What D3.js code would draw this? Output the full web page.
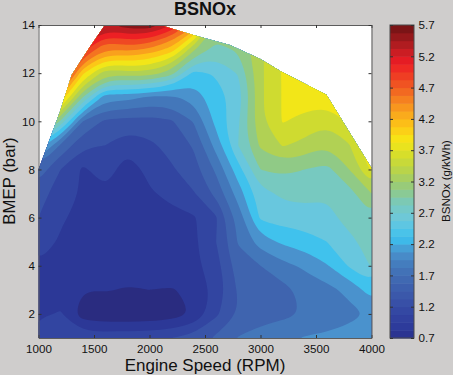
<!DOCTYPE html>
<html>
<head>
<meta charset="utf-8">
<script src="https://cdn.jsdelivr.net/npm/d3@7"></script>
<style>
  html, body { margin: 0; padding: 0; background: #cfcdcc; }
  svg { display: block; font-family: "Liberation Sans", Arial, sans-serif; }
</style>
</head>
<body>
<svg id="chart"></svg>
<script>
const width = 453;
const height = 375;

// Grid the map was read on
const speeds = [1000, 1200, 1400, 1600, 1800, 2000, 2200, 2400, 2600, 2800, 3000, 3200, 3400, 3600, 3800, 4000];
const bmepTopDown = [14, 13, 12, 11, 10, 9, 8, 7, 6, 5, 4, 3, 2, 1];

// BSNOx (g/kWh) per row, top row first, one value per speed
const bsnox = [
  [6.5, 6.4, 5.9, 5.4, 5.6, 5.65, 5.2, 4.5, 3.2, 3.1, 3.4, 3.75, 3.9, 3.9, 3.9, 4.0],
  [6.5, 6.3, 5.1, 4.45, 4.55, 4.4, 4.1, 3.25, 2.85, 3.0, 3.4, 3.75, 3.9, 3.9, 3.9, 4.0],
  [6.0, 5.5, 4.0, 3.3, 3.35, 3.35, 3.05, 2.37, 2.48, 2.72, 3.4, 3.72, 3.9, 3.9, 3.9, 4.0],
  [5.0, 4.2, 2.95, 2.05, 2.05, 1.9, 1.9, 2.05, 2.35, 2.55, 3.4, 3.72, 3.85, 3.85, 3.9, 4.0],
  [4.0, 2.9, 1.7, 1.4, 1.35, 1.35, 1.42, 1.72, 2.28, 2.68, 3.4, 3.72, 3.6, 3.5, 3.75, 4.2],
  [2.4, 1.65, 1.25, 1.2, 1.03, 1.15, 1.28, 1.48, 2.05, 2.7, 3.25, 3.47, 3.38, 3.2, 3.43, 4.0],
  [1.6, 1.2, 0.9, 1.08, 0.82, 1.02, 1.17, 1.35, 1.75, 2.35, 2.95, 3.02, 2.95, 2.88, 3.2, 3.75],
  [1.3, 1.08, 0.92, 0.9, 0.87, 0.92, 1.02, 1.18, 1.53, 2.07, 2.6, 2.75, 2.78, 2.73, 2.85, 3.2],
  [1.2, 0.98, 0.88, 0.86, 0.85, 0.86, 0.88, 0.92, 1.17, 1.8, 2.5, 2.57, 2.6, 2.62, 2.8, 2.92],
  [1.08, 0.92, 0.86, 0.84, 0.84, 0.84, 0.88, 0.9, 1.2, 1.73, 2.07, 2.25, 2.33, 2.45, 2.63, 2.82],
  [0.93, 0.87, 0.82, 0.8, 0.8, 0.82, 0.85, 0.88, 1.1, 1.58, 1.7, 1.87, 2.0, 2.18, 2.48, 2.72],
  [0.88, 0.85, 0.7, 0.72, 0.68, 0.7, 0.68, 0.76, 1.03, 1.48, 1.55, 1.62, 1.78, 1.87, 2.02, 2.32],
  [0.9, 0.97, 0.55, 0.5, 0.5, 0.5, 0.55, 0.72, 1.15, 1.45, 1.55, 1.63, 1.72, 1.8, 1.88, 1.98],
  [1.15, 1.05, 1.1, 1.12, 1.12, 1.15, 1.2, 1.3, 1.5, 1.72, 1.85, 1.9, 1.97, 2.0, 2.05, 2.12]
];

// Upper edge of the measured region
const edgeSpeed = [1000, 1193, 1299, 1450, 1599, 2095, 2395, 2724, 2995, 3190, 3594, 4000];
const edgeBmep = [8.0, 10.4, 11.92, 13.0, 14.0, 14.0, 13.58, 13.17, 12.6, 12.06, 11.1, 8.06];

// Contour levels and colour ramp
const levels = d3.range(0.45, 5.7, 0.25);
const rampValues = [0.6, 0.85, 1.1, 1.35, 1.6, 1.85, 2.08, 2.3, 2.6, 2.85, 3.1, 3.35, 3.6, 3.85, 4.1, 4.35, 4.6, 4.85, 5.1, 5.35, 5.7];
const rampColors = ['#2a2c80', '#2c399a', '#3346a2', '#3a55a9', '#3f66b0', '#4379bb', '#4a93cd', '#3cc1ef', '#6cc8dc', '#78c9bd', '#93ca80', '#b4d24f', '#d2dc2d', '#f6e716', '#fdc417', '#f99d1e', '#f37021', '#ef4423', '#ed1c24', '#b81d22', '#6e1214'];

const xTicks = [1000, 1500, 2000, 2500, 3000, 3500, 4000];
const yTicks = [2, 4, 6, 8, 10, 12, 14];
const barTicks = [0.7, 1.2, 1.7, 2.2, 2.7, 3.2, 3.7, 4.2, 4.7, 5.2, 5.7];

const plot = { left: 38.5, right: 371.5, top: 25, bottom: 338 };
const bar = { left: 390, right: 414 };

const x = d3.scaleLinear().domain([1000, 4000]).range([plot.left, plot.right]);
const y = d3.scaleLinear().domain([1, 14]).range([plot.bottom, plot.top]);
const barY = d3.scaleLinear().domain([0.7, 5.7]).range([plot.bottom, plot.top]);
const color = d3.scaleLinear().domain(rampValues).range(rampColors).clamp(true);

const svg = d3.select('#chart').attr('width', width).attr('height', height);

// Clip region from the edge arrays
const clipPoints = edgeSpeed.map((s, i) => [x(s), y(edgeBmep[i])])
  .concat([[x(4000), y(1)], [x(1000), y(1)]]);
svg.append('clipPath').attr('id', 'region')
  .append('polygon').attr('points', clipPoints.join(' '));

svg.append('rect')
  .attr('x', plot.left).attr('y', plot.top)
  .attr('width', plot.right - plot.left).attr('height', plot.bottom - plot.top)
  .attr('fill', '#fff');

// Filled contours, rings drawn as curves so the bands come out smooth
const stepX = speeds[1] - speeds[0];
const contours = d3.contours()
  .size([speeds.length, bmepTopDown.length])
  .smooth(true)
  .thresholds(levels)(bsnox.flat());

const toPlot = ([cx, cy]) => [x(speeds[0] + (cx - 0.5) * stepX), y(bmepTopDown[0] - (cy - 0.5))];
const ringLine = d3.line().curve(d3.curveBasisClosed);

svg.append('g').attr('clip-path', 'url(#region)')
  .selectAll('path')
  .data(contours)
  .enter().append('path')
    .attr('d', d => d.coordinates.flat().map(r => ringLine(r.slice(0, -1).map(toPlot))).join(''))
    .attr('fill-rule', 'evenodd')
    .attr('fill', d => color(d.value + 0.125));

// Axes, ticks point inward and repeat on the far sides
function styleAxis(g) {
  g.selectAll('.domain').attr('stroke', '#5c5c5c').attr('stroke-width', 1);
  g.selectAll('.tick line').attr('stroke', '#333');
  g.selectAll('.tick text').attr('fill', '#111').attr('font-size', 11.6);
}

svg.append('g').attr('transform', `translate(0,${plot.bottom})`)
  .call(d3.axisBottom(x).tickValues(xTicks).tickFormat(d3.format('d')).tickSizeInner(-3).tickSizeOuter(0).tickPadding(6.5))
  .call(styleAxis);
svg.append('g').attr('transform', `translate(0,${plot.top})`)
  .call(d3.axisTop(x).tickValues(xTicks).tickFormat('').tickSizeInner(-3).tickSizeOuter(0))
  .call(styleAxis);
svg.append('g').attr('transform', `translate(${plot.left},0)`)
  .call(d3.axisLeft(y).tickValues(yTicks).tickFormat(d3.format('d')).tickSizeInner(-3).tickSizeOuter(0).tickPadding(3.5))
  .call(styleAxis);
svg.append('g').attr('transform', `translate(${plot.right},0)`)
  .call(d3.axisRight(y).tickValues(yTicks).tickFormat('').tickSizeInner(-3).tickSizeOuter(0))
  .call(styleAxis);

// Colour bar
const barLevels = d3.range(0.7, 5.7, 0.125);
svg.append('g').selectAll('rect')
  .data(barLevels)
  .enter().append('rect')
    .attr('x', bar.left)
    .attr('width', bar.right - bar.left)
    .attr('y', d => barY(d + 0.125))
    .attr('height', d => barY(d) - barY(d + 0.125) + 0.5)
    .attr('fill', d => color(d + 0.0625));

svg.append('rect')
  .attr('x', bar.left).attr('y', plot.top)
  .attr('width', bar.right - bar.left).attr('height', plot.bottom - plot.top)
  .attr('fill', 'none').attr('stroke', '#4a4a4a');

svg.append('g').attr('transform', `translate(${bar.right},0)`)
  .call(d3.axisRight(barY).tickValues(barTicks).tickFormat(d3.format('.1f')).tickSizeInner(-3).tickSizeOuter(0).tickPadding(4.5))
  .call(styleAxis)
  .call(g => g.select('.domain').remove());
svg.append('g').attr('transform', `translate(${bar.left},0)`)
  .call(d3.axisLeft(barY).tickValues(barTicks).tickFormat('').tickSizeInner(-3).tickSizeOuter(0))
  .call(styleAxis)
  .call(g => g.select('.domain').remove());

// Titles
svg.append('text').attr('x', 205).attr('y', 15)
  .attr('text-anchor', 'middle').attr('font-size', 18).attr('font-weight', 'bold').attr('fill', '#111')
  .text('BSNOx');
svg.append('text').attr('x', 205).attr('y', 371)
  .attr('text-anchor', 'middle').attr('font-size', 17).attr('fill', '#111')
  .text('Engine Speed (RPM)');
svg.append('text').attr('transform', 'translate(15,181) rotate(-90)')
  .attr('text-anchor', 'middle').attr('font-size', 16.8).attr('fill', '#111')
  .text('BMEP (bar)');
svg.append('text').attr('transform', 'translate(450,181) rotate(-90)')
  .attr('text-anchor', 'middle').attr('font-size', 11.5).attr('fill', '#111')
  .text('BSNOx (g/kWh)');
</script>
</body>
</html>
